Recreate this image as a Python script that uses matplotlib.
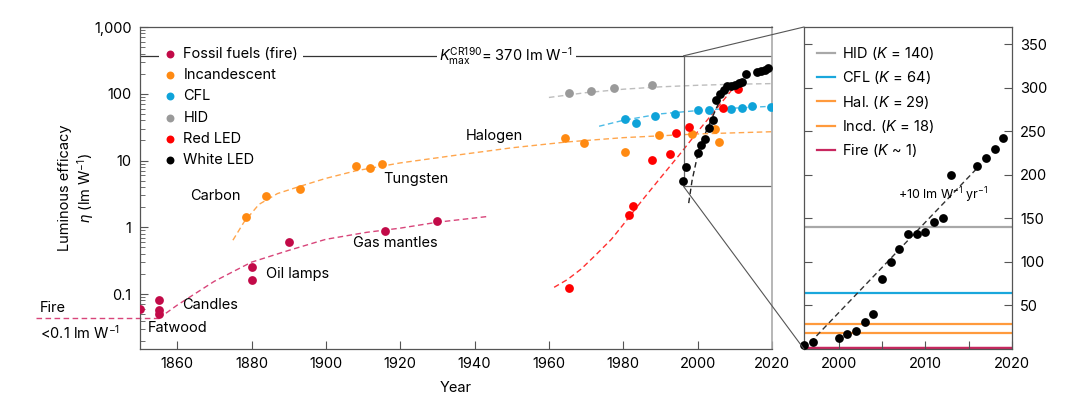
import numpy as np
import matplotlib
matplotlib.use('Agg')
import matplotlib.pyplot as plt
from matplotlib.patches import Rectangle, ConnectionPatch
from matplotlib.lines import Line2D
from matplotlib.ticker import FixedLocator, FixedFormatter, LogLocator, NullFormatter

plt.rcParams['font.family'] = ['Inter', 'DejaVu Sans']
plt.rcParams['font.size'] = 10.5
plt.rcParams['mathtext.fontset'] = 'custom'
plt.rcParams['mathtext.rm'] = 'Inter'
plt.rcParams['mathtext.it'] = 'Inter:italic'

#資料
fossil_year = [1850, 1855, 1855, 1855, 1880, 1880, 1890, 1916, 1930]
fossil_eff = [0.059, 0.080, 0.057, 0.050, 0.25, 0.16, 0.60, 0.87, 1.23]
incd_year = [1878.6, 1884, 1893, 1908, 1912, 1915, 1964.3, 1969.5, 1980.5, 1989.5, 1998.6, 2004.6, 2005.7]
incd_eff = [1.41, 2.9, 3.8, 8.2, 7.7, 8.8, 21.6, 18.2, 13.3, 24, 24.8, 29.5, 18.8]
cfl_year = [1980.5, 1983.5, 1988.6, 1993.8, 2000, 2003, 2008.9, 2011.9, 2014.6, 2019.7]
cfl_eff = [41.6, 36.3, 46, 49.4, 56.8, 56.8, 58.8, 60.9, 65, 63]
hid_year = [1965.4, 1971.4, 1977.6, 1987.6]
hid_eff = [102, 109, 121, 134]
red_year = [1965.4, 1981.6, 1982.7, 1987.6, 1992.7, 1994.3, 1997.6, 2006.8, 2010.8]
red_eff = [0.122, 1.51, 2.06, 10.1, 12.4, 25.7, 31.6, 61, 117]
white_year = [1996, 1997, 2000, 2001, 2002, 2003, 2004, 2005, 2006, 2007,
              2008, 2009, 2010, 2011, 2012, 2013, 2016, 2017, 2018, 2019]
white_eff = [5, 8, 13, 17, 21, 31, 40, 80, 100, 115,
             132, 132, 135, 146, 150, 200, 210, 220, 230, 242]

# dashed trend curves
fire_line_year = [1822, 1855]
fire_line_eff = [0.043, 0.043]
fossil_fit_year = [1855, 1860, 1870, 1880, 1890, 1900, 1911, 1920, 1930, 1944]
fossil_fit_eff = [0.043, 0.068, 0.155, 0.30, 0.45, 0.66, 0.84, 0.97, 1.19, 1.46]
incd_fit_year = [1875, 1878, 1882, 1887, 1893, 1900, 1908, 1920, 1935, 1950, 1965, 1980, 2000, 2020]
incd_fit_eff = [0.64, 1.2, 2.2, 3.2, 4.1, 5.4, 7.0, 9.2, 12, 15.5, 19, 22, 25, 27]
hid_fit_year = [1960, 1970, 1980, 1990, 2000, 2010, 2020]
hid_fit_eff = [88, 104, 117, 127, 134, 139, 142]
cfl_fit_year = [1973.5, 1980, 1990, 2000, 2010, 2020]
cfl_fit_eff = [32.6, 40, 50, 56, 61, 65]
red_fit_year = [1961.4, 1965, 1968.6, 1972.5, 1976.8, 1980, 1985, 1990, 1995, 2000, 2005, 2010.5]
red_fit_eff = [0.126, 0.165, 0.235, 0.38, 0.66, 1.1, 2.5, 5.5, 12, 27, 59, 140]
white_fit_year = [1997.6, 1998.5, 2000.3, 2002, 2004, 2006]
white_fit_eff = [2.3, 5.0, 14.5, 25, 45, 80]

k_max = 370
zoom_x = (1996.2, 2020)
zoom_y = (4.1, 370)

# right panel: saturation limits K and linear trend
k_names = ['HID ($K$ = 140)', 'CFL ($K$ = 64)', 'Hal. ($K$ = 29)', 'Incd. ($K$ = 18)', 'Fire ($K$ ~ 1)']
k_values = [140, 64, 29, 18, 1]
k_colors = ['#a8a8a8', '#1aa7dc', '#ff9a3c', '#ff9a3c', '#c8275f']
trend_year = [1996, 2016]
trend_eff = [0, 208]

c_fossil = '#c20a48'
c_incd = '#ff8a12'
c_cfl = '#0fa3d9'
c_hid = '#9a9a9a'
c_red = '#ff0000'
c_white = '#000000'
spine_c = '#555555'
dash = (4, 2.5)
ms = 40

fig = plt.figure(figsize=(10.8, 3.99), dpi=100)
ax = fig.add_axes([0.1296, 0.1253, 0.5852, 0.8070])
ax2 = fig.add_axes([0.7444, 0.1253, 0.1926, 0.8070])

#左圖
ax.set_yscale('log')
ax.set_xlim(1850, 2020)
ax.set_ylim(0.015, 1000)

ax.plot(fire_line_year, fire_line_eff, color='#d8457a', lw=1, dashes=dash, clip_on=False)
ax.plot(fossil_fit_year, fossil_fit_eff, color='#d8457a', lw=1, dashes=dash)
ax.plot(incd_fit_year, incd_fit_eff, color='#ffa64d', lw=1, dashes=dash)
ax.plot(hid_fit_year, hid_fit_eff, color='#bdbdbd', lw=1, dashes=dash)
ax.plot(cfl_fit_year, cfl_fit_eff, color='#4cbbe6', lw=1, dashes=dash)
ax.plot(red_fit_year, red_fit_eff, color='#ff3030', lw=1, dashes=dash)
ax.plot(white_fit_year, white_fit_eff, color='#222222', lw=1, dashes=dash)

ax.scatter(fossil_year, fossil_eff, s=ms, color=c_fossil, lw=0, zorder=3, label='Fossil fuels (fire)')
ax.scatter(incd_year, incd_eff, s=ms, color=c_incd, lw=0, zorder=3, label='Incandescent')
ax.scatter(cfl_year, cfl_eff, s=ms, color=c_cfl, lw=0, zorder=3, label='CFL')
ax.scatter(hid_year, hid_eff, s=ms, color=c_hid, lw=0, zorder=3, label='HID')
ax.scatter(red_year, red_eff, s=ms, color=c_red, lw=0, zorder=3, label='Red LED')
ax.scatter(white_year, white_eff, s=ms, color=c_white, lw=0, zorder=4, label='White LED')

# K max line and zoom box
ax.plot([1850, zoom_x[0]], [k_max, k_max], color='#333333', lw=0.9, zorder=1)
ax.text(1948.5, k_max, r'$K_{\mathrm{max}}^{\mathrm{CR190}}$= 370 lm W$^{-1}$', ha='center', va='center',
        fontsize=10.5, bbox=dict(facecolor='white', edgecolor='none', pad=2), zorder=2)
ax.add_patch(Rectangle((zoom_x[0], zoom_y[0]), zoom_x[1] - zoom_x[0], zoom_y[1] - zoom_y[0],
                       facecolor='none', edgecolor='#666666', lw=0.9, zorder=2))

# labels
ax.text(1823, 0.061, 'Fire', ha='left', va='center', fontsize=10.5)
ax.text(1823, 0.0267, '<0.1 lm W$^{-1}$', ha='left', va='center', fontsize=10.5)
ax.text(1852, 0.0306, 'Fatwood', ha='left', va='center', fontsize=10.5)
ax.text(1861.4, 0.068, 'Candles', ha='left', va='center', fontsize=10.5)
ax.text(1884, 0.197, 'Oil lamps', ha='left', va='center', fontsize=10.5)
ax.text(1907.3, 0.575, 'Gas mantles', ha='left', va='center', fontsize=10.5)
ax.text(1863.5, 2.92, 'Carbon', ha='left', va='center', fontsize=10.5)
ax.text(1915.4, 5.25, 'Tungsten', ha='left', va='center', fontsize=10.5)
ax.text(1937.6, 23.1, 'Halogen', ha='left', va='center', fontsize=10.5)

ax.set_xticks([1860, 1880, 1900, 1920, 1940, 1960, 1980, 2000, 2020])
ax.yaxis.set_major_locator(FixedLocator([0.1, 1, 10, 100, 1000]))
ax.yaxis.set_major_formatter(FixedFormatter(['0.1', '1', '10', '100', '1,000']))
ax.yaxis.set_minor_locator(LogLocator(base=10, subs=np.arange(2, 10)))
ax.yaxis.set_minor_formatter(NullFormatter())
ax.tick_params(axis='both', which='major', direction='in', length=6, width=0.8, color=spine_c, pad=6)
ax.tick_params(axis='y', which='minor', direction='in', length=3.5, width=0.6, color=spine_c)
for s in ['left', 'bottom', 'top']:
    ax.spines[s].set_color(spine_c)
    ax.spines[s].set_linewidth(0.9)
ax.spines['right'].set_color('#aaaaaa')
ax.spines['right'].set_linewidth(1.2)
ax.set_xlabel('Year', fontsize=10.5, labelpad=7)
ax.set_ylabel('Luminous efficacy\n$\\eta$ (lm W$^{-1}$)', fontsize=10.5, labelpad=-1)

leg = ax.legend(loc='upper left', bbox_to_anchor=(0.018, 0.975), frameon=True, facecolor='white',
                edgecolor='none', framealpha=1, fontsize=10.5, handletextpad=0.4, labelspacing=0.5,
                borderpad=0.3, handlelength=1.0, markerscale=0.9)
leg.set_zorder(5)

#右圖
ax2.set_xlim(1996, 2020)
ax2.set_ylim(0, 370)
for val, col in zip(k_values, k_colors):
    ax2.axhline(val, color=col, lw=1.6 if val > 1 else 2.5, zorder=1)
ax2.plot(trend_year, trend_eff, color='#333333', lw=1, dashes=dash, zorder=2)
ax2.scatter(white_year, white_eff, s=ms, color=c_white, lw=0, zorder=3, clip_on=False)
ax2.text(2012.1, 177, '+10 lm W$^{-1}$ yr$^{-1}$', ha='center', va='center', fontsize=9)

handles = [Line2D([], [], color=c, lw=1.6) for c in k_colors]
ax2.legend(handles, k_names, loc='upper left', bbox_to_anchor=(0.0, 0.985), frameon=False,
           fontsize=10.5, handlelength=1.2, handletextpad=0.5, labelspacing=0.5)

ax2.set_xticks([2000, 2005, 2010, 2015, 2020])
ax2.set_xticklabels(['2000', '', '2010', '', '2020'])
ax2.set_yticks([50, 100, 150, 200, 250, 300, 350])
ax2.yaxis.tick_right()
ax2.tick_params(axis='y', which='major', left=True, right=True, labelleft=False, labelright=True)
ax2.tick_params(axis='both', which='major', direction='in', length=6, width=0.8, color=spine_c, pad=6)
for s in ax2.spines.values():
    s.set_color(spine_c)
    s.set_linewidth(0.9)

# connectors from the box to the right panel
for ya, yb in [(zoom_y[1], 1), (zoom_y[0], 0)]:
    con = ConnectionPatch(xyA=(zoom_x[0], ya), coordsA=ax.transData, xyB=(0, yb), coordsB=ax2.transAxes,
                          color='#555555', lw=0.8)
    fig.add_artist(con)

fig.savefig('out.png', dpi=100)
